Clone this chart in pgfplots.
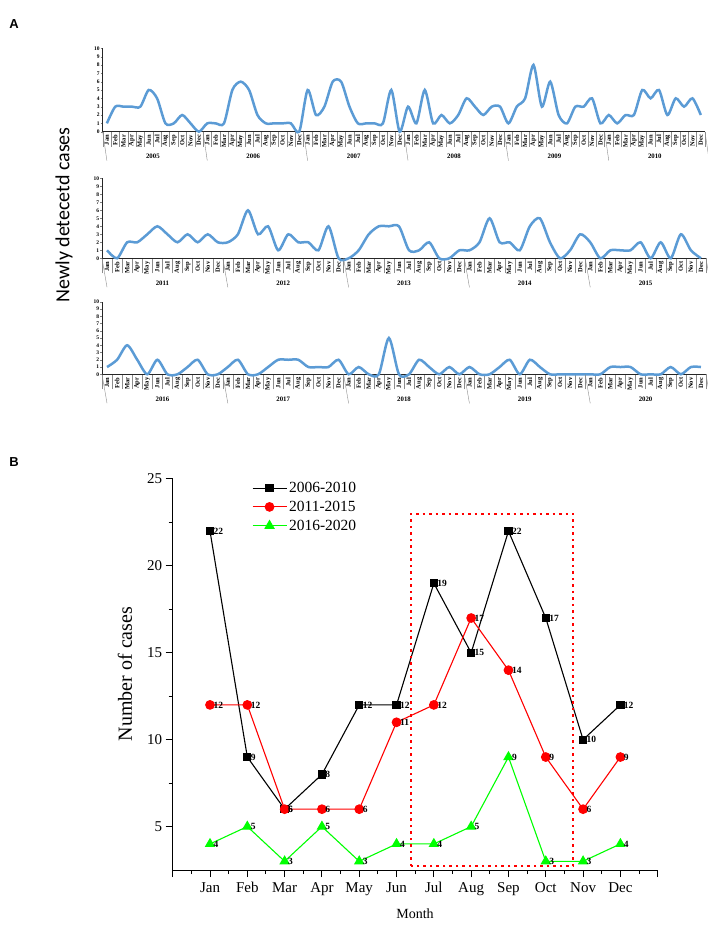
\documentclass[border=0pt]{standalone}
\usepackage{pgfplots}
\pgfplotsset{compat=1.18}
\usepackage{fontspec}
\setmainfont{Liberation Serif}
\newfontfamily\calibri{Carlito}
\newfontfamily\arialf{Liberation Sans}
\definecolor{lblue}{RGB}{91,155,213}
\definecolor{sepgray}{RGB}{140,140,140}
\definecolor{pgreen}{RGB}{0,255,0}
\definecolor{pred}{RGB}{255,0,0}

\tikzset{yearlab/.style={font=\bfseries\fontsize{6.8}{7}\selectfont, yshift=-25pt}}
\pgfplotsset{
  /pgf/number format/assume math mode=true,
  rowA/.style={
    scale only axis, anchor=south west,
    xmin=-0.5, ymin=0, ymax=10,
    axis x line*=bottom, axis y line*=left,
    axis line style={line width=0.5pt, black!85},
    clip=false,
    ytick={0,...,10},
    yticklabel style={font=\bfseries\fontsize{5.5}{5.5}\selectfont, inner sep=0.8pt},
    tick align=outside,
    major tick length=2pt,
    minor tick length=15pt,
    major x tick style={draw=none},
    minor x tick style={sepgray, line width=0.3pt},
    xticklabel={\pgfmathtruncatemacro\mm{mod(round(\tick),12)}\ifcase\mm Jan\or Feb\or Mar\or Apr\or May\or Jun\or Jul\or Aug\or Sep\or Oct\or Nov\or Dec\fi},
    xticklabel style={rotate=90, anchor=east, font=\bfseries\fontsize{6.5}{6.5}\selectfont, inner sep=1.2pt},
  },
  blueline/.style={lblue, line width=2.5pt, smooth, tension=0.45, no marks},
}

\begin{document}
\begin{tikzpicture}
\useasboundingbox (0,0) rectangle (708pt,927pt);

% ---------------- Panel A, row 1 (2005-2010)
\begin{axis}[rowA, at={(102.7pt,795.3pt)}, width=602.3pt, height=83.4pt,
  xmax=71.5, xtick={0,...,71}, minor xtick={-0.5,0.5,...,71.5}]
\addplot[blueline] table[x expr=\coordindex, y index=0, header=false, row sep=\\] {
1\\3\\3\\3\\3\\5\\4\\1\\1\\2\\1\\0\\
1\\1\\1\\5\\6\\5\\2\\1\\1\\1\\1\\0\\
5\\2\\3\\6\\6\\3\\1\\1\\1\\1\\5\\0\\
3\\1\\5\\1\\2\\1\\2\\4\\3\\2\\3\\3\\
1\\3\\4\\8\\3\\6\\2\\1\\3\\3\\4\\1\\
2\\1\\2\\2\\5\\4\\5\\2\\4\\3\\4\\2\\
};
\pgfplotsinvokeforeach{-0.5,11.5,23.5,35.5,47.5,59.5,71.5}{\draw[sepgray, line width=0.4pt] (axis cs:#1,0) -- ++(0,-29pt);}
\node[yearlab] at (axis cs:5.5,0) {2005};
\node[yearlab] at (axis cs:17.5,0) {2006};
\node[yearlab] at (axis cs:29.5,0) {2007};
\node[yearlab] at (axis cs:41.5,0) {2008};
\node[yearlab] at (axis cs:53.5,0) {2009};
\node[yearlab] at (axis cs:65.5,0) {2010};
\end{axis}

% ---------------- Panel A, row 2 (2011-2015)
\begin{axis}[rowA, at={(102pt,668.7pt)}, width=604pt, height=80pt,
  xmax=59.5, xtick={0,...,59}, minor xtick={-0.5,0.5,...,59.5}]
\addplot[blueline] table[x expr=\coordindex, y index=0, header=false, row sep=\\] {
1\\0\\2\\2\\3\\4\\3\\2\\3\\2\\3\\2\\
2\\3\\6\\3\\4\\1\\3\\2\\2\\1\\4\\0\\
0\\1\\3\\4\\4\\4\\1\\1\\2\\0\\0\\1\\
1\\2\\5\\2\\2\\1\\4\\5\\2\\0\\1\\3\\
2\\0\\1\\1\\1\\2\\0\\2\\0\\3\\1\\0\\
};
\pgfplotsinvokeforeach{-0.5,11.5,23.5,35.5,47.5,59.5}{\draw[sepgray, line width=0.4pt] (axis cs:#1,0) -- ++(0,-29pt);}
\node[yearlab] at (axis cs:5.5,0) {2011};
\node[yearlab] at (axis cs:17.5,0) {2012};
\node[yearlab] at (axis cs:29.5,0) {2013};
\node[yearlab] at (axis cs:41.5,0) {2014};
\node[yearlab] at (axis cs:53.5,0) {2015};
\end{axis}

% ---------------- Panel A, row 3 (2016-2020)
\begin{axis}[rowA, at={(102pt,552.7pt)}, width=604pt, height=72.6pt,
  xmax=59.5, xtick={0,...,59}, minor xtick={-0.5,0.5,...,59.5}]
\addplot[blueline] table[x expr=\coordindex, y index=0, header=false, row sep=\\] {
1\\2\\4\\2\\0\\2\\0\\0\\1\\2\\0\\0\\
1\\2\\0\\0\\1\\2\\2\\2\\1\\1\\1\\2\\
0\\1\\0\\0\\5\\0\\0\\2\\1\\0\\1\\0\\
1\\0\\0\\1\\2\\0\\2\\1\\0\\0\\0\\0\\
0\\0\\1\\1\\1\\0\\0\\0\\1\\0\\1\\1\\
};
\pgfplotsinvokeforeach{-0.5,11.5,23.5,35.5,47.5,59.5}{\draw[sepgray, line width=0.4pt] (axis cs:#1,0) -- ++(0,-29pt);}
\node[yearlab] at (axis cs:5.5,0) {2016};
\node[yearlab] at (axis cs:17.5,0) {2017};
\node[yearlab] at (axis cs:29.5,0) {2018};
\node[yearlab] at (axis cs:41.5,0) {2019};
\node[yearlab] at (axis cs:53.5,0) {2020};
\end{axis}

% ---------------- Panel B
\begin{axis}[
  at={(172.7pt,57pt)}, anchor=south west, scale only axis, width=485pt, height=391pt,
  xmin=0, xmax=13, ymin=2.5, ymax=25,
  axis x line*=bottom, axis y line*=left,
  axis line style={line width=1pt},
  xtick={0,...,13}, xticklabels={,Jan,Feb,Mar,Apr,May,Jun,Jul,Aug,Sep,Oct,Nov,Dec,},
  minor x tick num=1,
  ytick={5,10,15,20,25}, minor y tick num=1,
  tick align=outside, major tick length=7pt, minor tick length=4pt,
  tick style={line width=1pt, black},
  tick label style={font=\fontsize{15}{15}\selectfont},
  xticklabel style={yshift=-2pt},
  clip=false,
  legend style={draw=none, fill=none, at={(0.161,1.0)}, anchor=north west,
    font=\fontsize{15.5}{17}\selectfont, row sep=3pt, inner sep=1pt},
  legend cell align=left,
  legend image code/.code={\draw[mark repeat=2,mark phase=2,#1] plot coordinates {(0pt,0pt) (17pt,0pt) (34pt,0pt)};},
  nodes near coords,
  nodes near coords style={anchor=west, font=\bfseries\fontsize{9.5}{9.5}\selectfont, inner sep=0.5pt, xshift=2.5pt, text=black},
]
\addplot[black, line width=1.1pt, mark=square*, mark size=3.6pt] coordinates {
(1,22) (2,9) (3,6) (4,8) (5,12) (6,12) (7,19) (8,15) (9,22) (10,17) (11,10) (12,12)};
\addlegendentry{2006-2010}
\addplot[pred, line width=1.1pt, mark=*, mark size=4.3pt] coordinates {
(1,12) (2,12) (3,6) (4,6) (5,6) (6,11) (7,12) (8,17) (9,14) (10,9) (11,6) (12,9)};
\addlegendentry{2011-2015}
\addplot[pgreen, line width=1.1pt, mark=triangle*, mark size=5pt] coordinates {
(1,4) (2,5) (3,3) (4,5) (5,3) (6,4) (7,4) (8,5) (9,9) (10,3) (11,3) (12,4)};
\addlegendentry{2016-2020}
\draw[pred, line width=1.6pt, dash pattern=on 2.5pt off 4pt] (axis cs:6.39,2.72) rectangle (axis cs:10.73,23);
\end{axis}

% ---------------- labels
\node[font=\arialf\bfseries\fontsize{13}{13}\selectfont] at (14pt,903pt) {A};
\node[font=\arialf\bfseries\fontsize{13}{13}\selectfont] at (14pt,465pt) {B};
\node[rotate=90, font=\calibri\fontsize{20}{20}\selectfont] at (64pt,712pt) {Newly detecetd cases};
\node[rotate=90, font=\fontsize{20}{20}\selectfont] at (125pt,253pt) {Number of cases};
\node[font=\fontsize{14}{14}\selectfont] at (415pt,13pt) {Month};
\end{tikzpicture}
\end{document}
